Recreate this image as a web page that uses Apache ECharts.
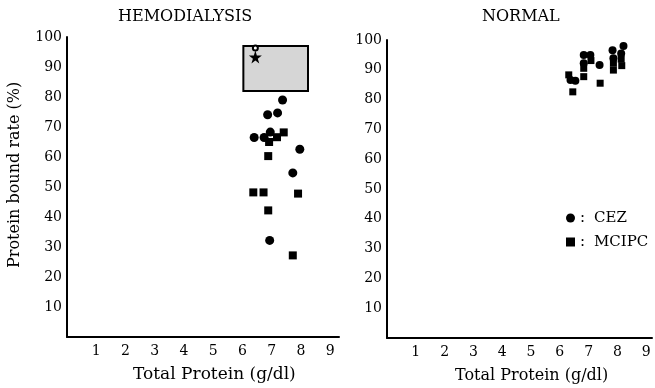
<!DOCTYPE html>
<html>
<head>
<meta charset="utf-8">
<script src="https://cdn.jsdelivr.net/npm/echarts@6/dist/echarts.min.js"></script>
<style>
html,body{margin:0;padding:0;background:#fff;}
#chart{width:655px;height:388px;}
</style>
</head>
<body>
<div id="chart"></div>
<script>
// ---- data ----
const xTicks = [1, 2, 3, 4, 5, 6, 7, 8, 9];
const yTicks = [10, 20, 30, 40, 50, 60, 70, 80, 90, 100];

// HEMODIALYSIS panel: [total protein g/dl, protein bound rate %]
const hemoCEZ = [[7.37,79.0],[6.86,74.1],[7.20,74.7],[6.95,68.3],[6.40,66.5],[6.74,66.5],[7.96,62.6],[7.72,54.7],[6.93,32.2]];
const hemoMCIPC = [[7.41,68.2],[7.18,66.6],[6.91,65.0],[6.88,60.3],[6.37,48.2],[6.72,48.2],[7.90,47.8],[6.88,42.2],[7.72,27.2]];
// normal-range box and marker in HEMODIALYSIS panel
const boxX = [6.03, 8.24];
const boxY = [82, 97];
const starPoint = [[6.44, 93.3]];
const ringPoint = [[6.44, 96.3]];

// NORMAL panel
const normCEZ = [[8.21,98.0],[7.83,96.6],[8.13,95.5],[7.86,93.9],[6.83,95.0],[7.06,95.0],[6.83,92.2],[7.38,91.6],[6.37,86.6],[6.54,86.3]];
const normMCIPC = [[7.08,93.1],[6.83,90.5],[6.83,87.7],[6.31,88.3],[7.40,85.5],[6.45,82.6],[8.13,93.6],[7.86,92.2],[8.15,91.4],[7.86,89.9]];

const FONT = 'DejaVu Serif';
const INK = '#000';

function xAxisCfg(gridIndex, max) {
  return {
    type: 'value', gridIndex: gridIndex, min: 0, max: max, interval: 1,
    axisLine: { show: true, onZero: false, lineStyle: { color: INK, width: 2 } },
    axisTick: { show: false },
    splitLine: { show: false },
    axisLabel: {
      margin: 7, color: INK, fontFamily: FONT, fontSize: 14,
      formatter: v => xTicks.includes(v) ? String(v) : ''
    }
  };
}
function yAxisCfg(gridIndex, margin) {
  return {
    type: 'value', gridIndex: gridIndex, min: 0, max: 100, interval: 10,
    axisLine: { show: true, onZero: false, lineStyle: { color: INK, width: 2 } },
    axisTick: { show: false },
    splitLine: { show: false },
    axisLabel: {
      margin: margin, color: INK, fontFamily: FONT, fontSize: 14,
      formatter: v => yTicks.includes(v) ? String(v) : ''
    }
  };
}

const starPath = 'path://M50,0 L61,35 L98,35 L68,57 L79,91 L50,70 L21,91 L32,57 L2,35 L39,35 Z';
const dot = { color: INK, opacity: 1 };

const option = {
  animation: false,
  backgroundColor: '#fff',
  grid: [
    { left: 67, top: 37, width: 272, height: 300 },
    { left: 387, top: 40, width: 267, height: 298 }
  ],
  xAxis: [xAxisCfg(0, 9.3), xAxisCfg(1, 9.2)],
  yAxis: [yAxisCfg(0, 5), yAxisCfg(1, 5)],
  legend: {
    orient: 'vertical', left: 561, top: 205,
    itemWidth: 9, itemHeight: 9, itemGap: 8,
    data: [{ name: 'CEZ', icon: 'circle' }, { name: 'MCIPC', icon: 'rect' }],
    itemStyle: { opacity: 1, color: INK },
    formatter: n => '{c|:}{n|' + n + '}',
    textStyle: {
      fontFamily: FONT, fontSize: 15, color: INK, lineHeight: 16,
      rich: {
        c: { fontFamily: FONT, fontSize: 15, color: INK, width: 14, lineHeight: 16 },
        n: { fontFamily: FONT, fontSize: 15, color: INK, lineHeight: 16 }
      }
    }
  },
  graphic: [
    { type: 'text', x: 118, y: 9, style: { text: 'HEMODIALYSIS', fontFamily: FONT, fontSize: 16, fill: INK } },
    { type: 'text', x: 482, y: 9, style: { text: 'NORMAL', fontFamily: FONT, fontSize: 16, fill: INK } },
    { type: 'text', x: 133, y: 366, style: { text: 'Total Protein (g/dl)', fontFamily: FONT, fontSize: 17, fill: INK } },
    { type: 'text', x: 455, y: 368, style: { text: 'Total Protein (g/dl)', fontFamily: FONT, fontSize: 16, fill: INK } },
    { type: 'text', x: 7, y: 268, rotation: Math.PI / 2, style: { text: 'Protein bound rate (%)', fontFamily: FONT, fontSize: 16, fill: INK } }
  ],
  series: [
    {
      name: 'CEZ', type: 'scatter', xAxisIndex: 0, yAxisIndex: 0,
      data: hemoCEZ, symbol: 'circle', symbolSize: 9, itemStyle: dot, z: 3,
      markArea: {
        silent: true,
        itemStyle: { color: '#d6d6d6', borderColor: INK, borderWidth: 2, opacity: 1 },
        data: [[{ coord: [boxX[0], boxY[1]] }, { coord: [boxX[1], boxY[0]] }]]
      }
    },
    { name: 'MCIPC', type: 'scatter', xAxisIndex: 0, yAxisIndex: 0, data: hemoMCIPC, symbol: 'rect', symbolSize: 8, itemStyle: dot, z: 3 },
    { name: 'star', type: 'scatter', xAxisIndex: 0, yAxisIndex: 0, data: starPoint, symbol: starPath, symbolSize: 13, itemStyle: dot, z: 4, silent: true },
    { name: 'ring', type: 'scatter', xAxisIndex: 0, yAxisIndex: 0, data: ringPoint, symbol: 'emptyCircle', symbolSize: 5, itemStyle: { color: INK, borderColor: INK, borderWidth: 1, opacity: 1 }, z: 4, silent: true },
    { name: 'CEZ', type: 'scatter', xAxisIndex: 1, yAxisIndex: 1, data: normCEZ, symbol: 'circle', symbolSize: 8, itemStyle: dot, z: 3 },
    { name: 'MCIPC', type: 'scatter', xAxisIndex: 1, yAxisIndex: 1, data: normMCIPC, symbol: 'rect', symbolSize: 7, itemStyle: dot, z: 3 }
  ]
};

const chart = echarts.init(document.getElementById('chart'), null, { renderer: 'canvas' });
chart.setOption(option);
</script>
</body>
</html>
